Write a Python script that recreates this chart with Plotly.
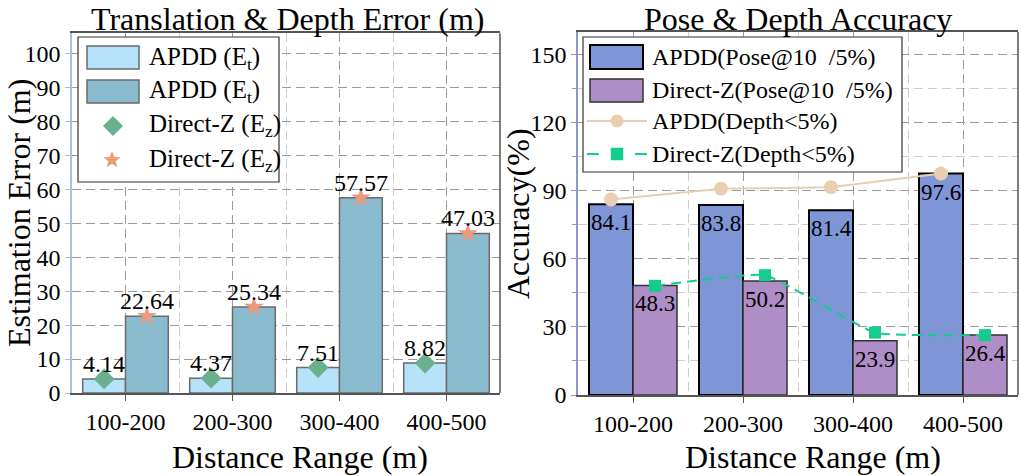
import math
import numpy as np
import plotly.graph_objects as go

# ---------------- data ----------------
categories = ["100-200", "200-300", "300-400", "400-500"]
# left panel: Translation & Depth Error (m)
apdd_et_a = [4.14, 4.37, 7.51, 8.82]
apdd_et_b = [22.64, 25.34, 57.57, 47.03]
directz_ez_a = [4.14, 4.37, 7.51, 8.82]
directz_ez_b = [22.64, 25.34, 57.57, 47.03]
# right panel: Pose & Depth Accuracy (%)
apdd_pose = [84.1, 83.8, 81.4, 97.6]
directz_pose = [48.3, 50.2, 23.9, 26.4]
apdd_depth = [86.2, 90.9, 91.6, 97.6]
directz_depth = [48.1, 52.8, 27.5, 26.4]

W, H = 1021, 476
FONT = "Liberation Serif"


def X(p):
    return p / W


def Y(p):
    return 1 - p / H


idx = np.arange(len(categories))
off = 0.2
bw = 0.4

C_LIGHT = "#b6e2fa"
C_DARK = "#8bbbce"
C_EDGE = "#6b6b6b"
C_DIAM = "#6aaf8e"
C_STAR = "#eb9a7c"
C_BLUE = "#7f96d6"
C_PURP = "#af8ec8"
C_BEIGE = "#e8cfb2"
C_GREEN = "#14cd8c"
C_SPINE = "#555555"

fig = go.Figure()

# ---- left panel traces ----
fig.add_trace(go.Bar(x=idx - off, y=apdd_et_a, width=bw, marker=dict(color=C_LIGHT, line=dict(color=C_EDGE, width=1.5)),
                     xaxis="x", yaxis="y", showlegend=False))
fig.add_trace(go.Bar(x=idx + off, y=apdd_et_b, width=bw, marker=dict(color=C_DARK, line=dict(color=C_EDGE, width=1.5)),
                     xaxis="x", yaxis="y", showlegend=False))
fig.add_trace(go.Scatter(x=idx - off, y=directz_ez_a, mode="markers",
                         marker=dict(symbol="diamond", size=16, color=C_DIAM, line=dict(width=0)),
                         xaxis="x", yaxis="y", showlegend=False))
fig.add_trace(go.Scatter(x=idx + off, y=directz_ez_b, mode="markers",
                         marker=dict(symbol="star", size=15, color=C_STAR, line=dict(width=0)),
                         xaxis="x", yaxis="y", showlegend=False))

# ---- right panel traces ----
fig.add_trace(go.Bar(x=idx - off, y=apdd_pose, width=bw, marker=dict(color=C_BLUE, line=dict(color="#000000", width=2)),
                     xaxis="x2", yaxis="y2", showlegend=False))
fig.add_trace(go.Bar(x=idx + off, y=directz_pose, width=bw, marker=dict(color=C_PURP, line=dict(color="#333333", width=1.5)),
                     xaxis="x2", yaxis="y2", showlegend=False))
fig.add_trace(go.Scatter(x=idx - off, y=apdd_depth, mode="lines+markers",
                         line=dict(color=C_BEIGE, width=2),
                         marker=dict(symbol="circle", size=14, color=C_BEIGE),
                         xaxis="x2", yaxis="y2", showlegend=False))
fig.add_trace(go.Scatter(x=idx + off, y=directz_depth, mode="lines+markers",
                         line=dict(color=C_GREEN, width=2, dash="10px,6px", shape="spline", smoothing=0.35),
                         marker=dict(symbol="square", size=12, color=C_GREEN),
                         xaxis="x2", yaxis="y2", showlegend=False))

annotations = []
# bar value labels (left: above bars)
for xs, vals in ((idx - off, apdd_et_a), (idx + off, apdd_et_b)):
    for xv, v in zip(xs, vals):
        annotations.append(dict(x=xv, y=v, xref="x", yref="y", text=f"{v:.2f}", showarrow=False,
                                xanchor="center", yanchor="bottom", yshift=0,
                                font=dict(family=FONT, size=24, color="#000")))
# right: inside top of bars
for xs, vals in ((idx - off, apdd_pose), (idx + off, directz_pose)):
    for xv, v in zip(xs, vals):
        annotations.append(dict(x=xv, y=v, xref="x2", yref="y2", text=f"{v:.1f}", showarrow=False,
                                xanchor="center", yanchor="top", yshift=-4,
                                font=dict(family=FONT, size=23, color="#000")))

TS = 32
# titles
annotations += [
    dict(x=X(287.5), y=1, xref="paper", yref="paper", text="Translation & Depth Error (m)", showarrow=False,
         xanchor="center", yanchor="top", borderpad=0, font=dict(family=FONT, size=TS, color="#000")),
    dict(x=X(798), y=1, xref="paper", yref="paper", text="Pose & Depth Accuracy", showarrow=False,
         xanchor="center", yanchor="top", borderpad=0, font=dict(family=FONT, size=TS, color="#000")),
    dict(x=X(300), y=0, xref="paper", yref="paper", text="Distance Range (m)", showarrow=False,
         xanchor="center", yanchor="bottom", borderpad=0, font=dict(family=FONT, size=TS, color="#000")),
    dict(x=X(813), y=0, xref="paper", yref="paper", text="Distance Range (m)", showarrow=False,
         xanchor="center", yanchor="bottom", borderpad=0, font=dict(family=FONT, size=TS, color="#000")),
    dict(x=0, y=Y(213), xref="paper", yref="paper", text="Estimation Error (m)", showarrow=False,
         textangle=-90, xanchor="left", yanchor="middle", borderpad=0, font=dict(family=FONT, size=TS, color="#000")),
    dict(x=X(518), y=Y(214), xref="paper", yref="paper", text="Accuracy(%)", showarrow=False,
         textangle=-90, xanchor="center", yanchor="middle", font=dict(family=FONT, size=TS, color="#000")),
]

shapes = []


def rect(x0, y0, x1, y1, fill, lc, lw):
    shapes.append(dict(type="rect", xref="paper", yref="paper", x0=X(x0), x1=X(x1), y0=Y(y1), y1=Y(y0),
                       fillcolor=fill, line=dict(color=lc, width=lw), layer="above"))


def seg(x0, y0, x1, y1, color, lw, dash="solid"):
    shapes.append(dict(type="line", xref="paper", yref="paper", x0=X(x0), x1=X(x1), y0=Y(y0), y1=Y(y1),
                       line=dict(color=color, width=lw, dash=dash), layer="above"))


def path_shape(pts, fill):
    d = "M " + " L ".join(f"{X(px):.6f},{Y(py):.6f}" for px, py in pts) + " Z"
    shapes.append(dict(type="path", xref="paper", yref="paper", path=d, fillcolor=fill,
                       line=dict(width=0), layer="above"))


def legend_text(x, y, text, size=24):
    annotations.append(dict(x=X(x), y=Y(y), xref="paper", yref="paper", text=text, showarrow=False,
                            xanchor="left", yanchor="middle", font=dict(family=FONT, size=size, color="#000")))


# spines (right side, dark)
shapes.append(dict(type="line", xref="x domain", yref="y domain", x0=1, x1=1, y0=0, y1=1,
                   line=dict(color=C_SPINE, width=1.5), layer="above"))
shapes.append(dict(type="line", xref="x2 domain", yref="y2 domain", x0=1, x1=1, y0=0, y1=1,
                   line=dict(color=C_SPINE, width=1.5), layer="above"))

# ---- left legend ----
rect(78, 37, 279, 182, "white", "#333333", 1.2)
rect(87, 46, 139, 69, C_LIGHT, C_EDGE, 1.5)
rect(87, 80, 139, 103, C_DARK, C_EDGE, 1.5)
cx, cy, r = 113, 126, 10
path_shape([(cx, cy - r), (cx + r, cy), (cx, cy + r), (cx - r, cy)], C_DIAM)
cx, cy, R, ri = 112, 160, 9, 3.8
star = []
for k in range(10):
    rr = R if k % 2 == 0 else ri
    th = math.pi * k / 5
    star.append((cx + rr * math.sin(th), cy - rr * math.cos(th)))
path_shape(star, C_STAR)
legend_text(147, 58, "APDD (E<sub>t</sub>)", 25)
legend_text(147, 92, "APDD (E<sub>t</sub>)", 25)
legend_text(147, 126, "Direct-Z (E<sub>z</sub>)", 25)
legend_text(147, 160, "Direct-Z (E<sub>z</sub>)", 25)

# ---- right legend ----
rect(583, 37, 902, 172, "white", "#333333", 1.2)
rect(590, 45, 643, 69, C_BLUE, "#000000", 2)
rect(590, 79, 643, 102, C_PURP, "#333333", 1.5)
seg(587, 121, 647, 121, C_BEIGE, 2)
shapes.append(dict(type="circle", xref="paper", yref="paper", x0=X(610.5), x1=X(623.5), y0=Y(127.5), y1=Y(114.5),
                   fillcolor=C_BEIGE, line=dict(width=0), layer="above"))
seg(587, 154, 599, 154, C_GREEN, 2)
seg(635, 154, 647, 154, C_GREEN, 2)
rect(611, 148, 623, 160, C_GREEN, C_GREEN, 0.5)
GAP = "\u00a0\u00a0"
legend_text(650, 57, "APDD(Pose@10" + GAP + "/5%)")
legend_text(650, 90, "Direct-Z(Pose@10" + GAP + "/5%)")
legend_text(650, 121, "APDD(Depth<5%)")
legend_text(650, 154, "Direct-Z(Depth<5%)")

grid_major = "#9a9a9a"
grid_minor = "#cccccc"
tickfont = dict(family=FONT, size=24, color="#000")

common_x = dict(range=[-0.5, 3.5], tickmode="array", tickvals=list(idx), ticktext=categories,
                showline=True, linecolor=C_SPINE, linewidth=1.5, mirror=True,
                ticks="outside", ticklen=6, tickcolor=C_SPINE, tickwidth=1.2,
                showgrid=True, gridcolor=grid_major, griddash="9px,5px", gridwidth=1.2,
                minor=dict(tickvals=list(idx + 0.5), showgrid=True, gridcolor=grid_minor,
                           griddash="9px,5px", gridwidth=1.2, ticks=""),
                zeroline=False, tickfont=tickfont, fixedrange=True, automargin=False)

fig.update_layout(
    template="none",
    font=dict(family=FONT, size=24, color="#000"),
    width=W, height=H, autosize=False,
    margin=dict(l=0, r=0, t=0, b=0, pad=0, autoexpand=False),
    paper_bgcolor="white", plot_bgcolor="white",
    barmode="overlay",
    showlegend=False,
    xaxis=dict(domain=[X(72), X(500)], anchor="y", **common_x),
    xaxis2=dict(domain=[X(578), X(1018)], anchor="y2", **common_x),
    yaxis=dict(domain=[Y(393), Y(33.3)], anchor="x", range=[0, 106], tickmode="linear", tick0=0, dtick=10,
               showline=True, linecolor="#a4c2db", linewidth=1.5, mirror=False,
               ticks="outside", ticklen=5, tickcolor="#a4c2db", tickwidth=1.2,
               showgrid=True, gridcolor=grid_major, griddash="9px,5px", gridwidth=1.2,
               zeroline=False, tickfont=tickfont, automargin=False),
    yaxis2=dict(domain=[Y(395), Y(32)], anchor="x2", range=[0, 160], tickmode="linear", tick0=0, dtick=30,
                showline=True, linecolor="#8b98c8", linewidth=1.5, mirror=False,
                ticks="outside", ticklen=5, tickcolor="#8b98c8", tickwidth=1.2,
                showgrid=True, gridcolor=grid_major, griddash="9px,5px", gridwidth=1.2,
                minor=dict(dtick=15, tick0=0, ticks="outside", ticklen=4, tickcolor="#8b98c8",
                           showgrid=True, gridcolor=grid_minor, griddash="9px,5px", gridwidth=1.2),
                zeroline=False, tickfont=tickfont, automargin=False),
    annotations=annotations,
    shapes=shapes,
)

fig.write_html("out.html")
